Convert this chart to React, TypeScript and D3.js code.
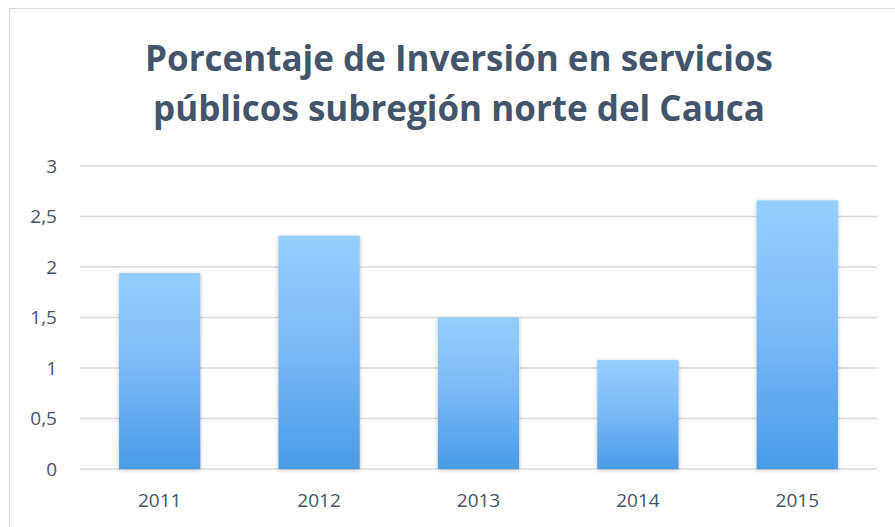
import React from 'react';
import * as d3 from 'd3';

const years = ['2011', '2012', '2013', '2014', '2015'];
const inversion = [1.94, 2.31, 1.5, 1.08, 2.66];
const yTicks = [0, 0.5, 1, 1.5, 2, 2.5, 3];
const titleLines = ['Porcentaje de Inversión en servicios', 'públicos subregión norte del Cauca'];

const width = 895,
      height = 527;

const textColor = '#44546A';

export default function App() {
    const x = d3.scaleBand().domain(years).range([80, 877]).paddingInner(0.49).paddingOuter(0.245);
    const y = d3.scaleLinear().domain([0, 3]).range([469, 166]);
    const fmt = (v: number) => String(v).replace('.', ',');

    return (
        <svg width={width} height={height} style={{ position: 'absolute', left: 0, top: 0 }}
             fontFamily="Open Sans, sans-serif">
            <defs>
                <linearGradient id="barGrad" x1="0" y1="0" x2="0" y2="1">
                    <stop offset="0%" stopColor="#95CEFF" />
                    <stop offset="45%" stopColor="#7DBBF6" />
                    <stop offset="100%" stopColor="#4A9BE6" />
                </linearGradient>
                <filter id="shadow" x="-20%" y="-20%" width="140%" height="140%">
                    <feDropShadow dx="0" dy="1" stdDeviation="2" floodColor="#000" floodOpacity="0.25" />
                </filter>
            </defs>
            <rect x={0} y={0} width={width} height={height} fill="#fff" />
            <rect x={9.5} y={8.5} width={width + 10} height={height + 10} fill="none" stroke="#D9D9D9" />

            {titleLines.map((t, i) => (
                <text key={i} x={459} y={71 + i * 50} textAnchor="middle" fontSize={35}
                      fontWeight="bold" fill={textColor}>{t}</text>
            ))}

            {yTicks.map((t) => (
                <g key={t}>
                    <line x1={80} x2={877} y1={y(t)} y2={y(t)} stroke="#D9D9D9" strokeWidth={1.5} />
                    <text x={57} y={y(t)} dy="0.35em" textAnchor="end" fontSize={19} fill={textColor}>{fmt(t)}</text>
                </g>
            ))}

            {years.map((yr, i) => (
                <rect key={yr} x={x(yr)} y={y(inversion[i])} width={x.bandwidth()}
                      height={y(0) - y(inversion[i])} fill="url(#barGrad)" filter="url(#shadow)" />
            ))}

            {years.map((yr) => (
                <text key={yr} x={(x(yr) as number) + x.bandwidth() / 2} y={500} dy="0.35em"
                      textAnchor="middle" fontSize={19} fill={textColor}>{yr}</text>
            ))}
        </svg>
    );
}
